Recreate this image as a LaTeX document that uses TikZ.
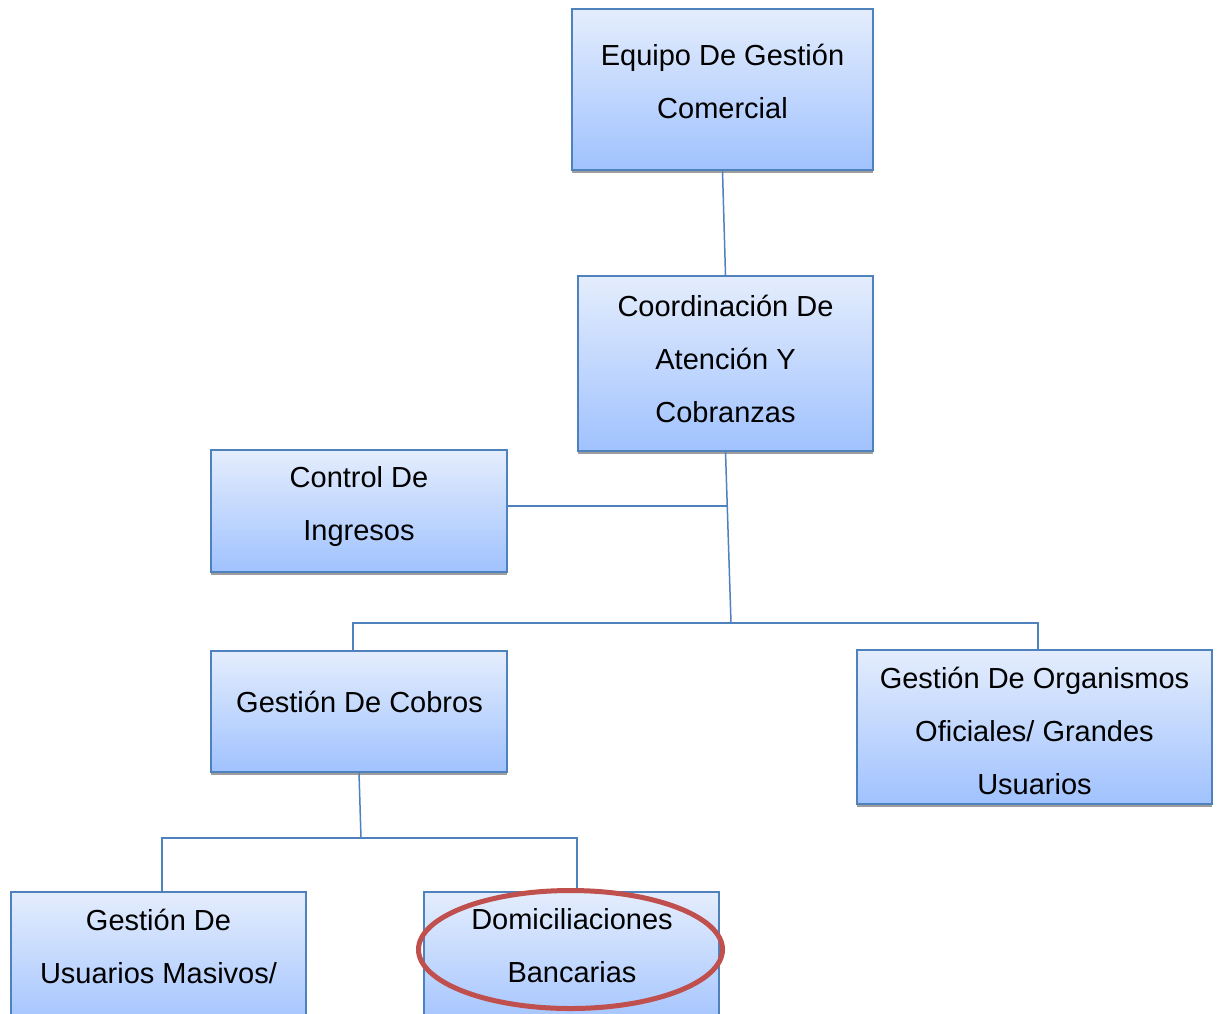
\documentclass[tikz,border=0pt]{standalone}
\usepackage{fontspec}
\setmainfont{Liberation Sans}
\usetikzlibrary{shapes.geometric,shadows}
\definecolor{boxtop}{RGB}{228,237,253}
\definecolor{boxbot}{RGB}{160,194,254}
\definecolor{boxline}{RGB}{79,129,189}
\definecolor{ringred}{RGB}{192,80,77}
\begin{document}
\begin{tikzpicture}[x=1pt,y=1pt,
  orgbox/.style={rectangle, draw=boxline, line width=1.6pt,
    top color=boxtop, bottom color=boxbot, inner sep=0pt,
    drop shadow={shadow xshift=0pt, shadow yshift=-3pt, fill=black!38, opacity=1}},
  lbl/.style={align=center, inner sep=0pt, text=black,
    font=\fontsize{29}{53}\selectfont},
  link/.style={draw=boxline, line width=1.5pt},
  ring/.style={ellipse, draw=ringred, line width=5pt, inner sep=0pt}]
\clip (0,0) rectangle (1217,-1013);
\fill[white] (0,0) rectangle (1217,-1013);

% units
\node[orgbox, minimum width=301, minimum height=161] (equipo) at (722.5,-89.5) {};
\node[orgbox, minimum width=295, minimum height=175] (coord) at (725.5,-363.5) {};
\node[orgbox, minimum width=296, minimum height=122] (control) at (359,-511) {};
\node[orgbox, minimum width=296, minimum height=121] (cobros) at (359,-711.5) {};
\node[orgbox, minimum width=355, minimum height=154] (organ) at (1034.5,-727) {};
\node[orgbox, minimum width=295, minimum height=140] (masivos) at (158.5,-962) {};
\node[orgbox, minimum width=295, minimum height=140] (domic) at (571.5,-962) {};

% unit names
\node[lbl] (tequipo) at (722.5,-81.5) {\strut Equipo De Gestión\\\strut Comercial};
\node[lbl] (tcoord) at (725.5,-358.7) {\strut Coordinación De\\\strut Atención Y\\\strut Cobranzas};
\node[lbl] (tcontrol) at (359,-503.5) {\strut Control De\\\strut Ingresos};
\node[lbl] (tcobros) at (359.5,-702) {\strut Gestión De Cobros};
\node[lbl] (torgan) at (1034.5,-730.7) {\strut Gestión De Organismos\\\strut Oficiales/ Grandes\\\strut Usuarios};
\node[lbl] (tmasivos) at (158.5,-946) {\strut Gestión De\\\strut Usuarios Masivos/};
\node[lbl] (tdomic) at (572,-945) {\strut Domiciliaciones\\\strut Bancarias};

% junction points
\coordinate (j1) at (731,-623);
\coordinate (jc) at (727.3,-506);
\coordinate (jl) at (353,-623);
\coordinate (jr) at (1038,-623);
\coordinate (j2) at (361,-838);
\coordinate (jml) at (162,-838);
\coordinate (jmr) at (577,-838);

% connectors
\draw[link] (equipo.south) -- (coord.north);
\draw[link] (coord.south) -- (j1);
\draw[link] (control.east |- jc) -- (jc);
\draw[link] (jl |- cobros.north) -- (jl) -- (jr) -- (jr |- organ.north);
\draw[link] (cobros.south) -- (j2);
\draw[link] (jml |- masivos.north) -- (jml) -- (jmr) -- (jmr |- domic.north);

% highlight
\node[ring, minimum width=304, minimum height=118] (hl) at (570.5,-949.5) {};
\end{tikzpicture}
\end{document}
